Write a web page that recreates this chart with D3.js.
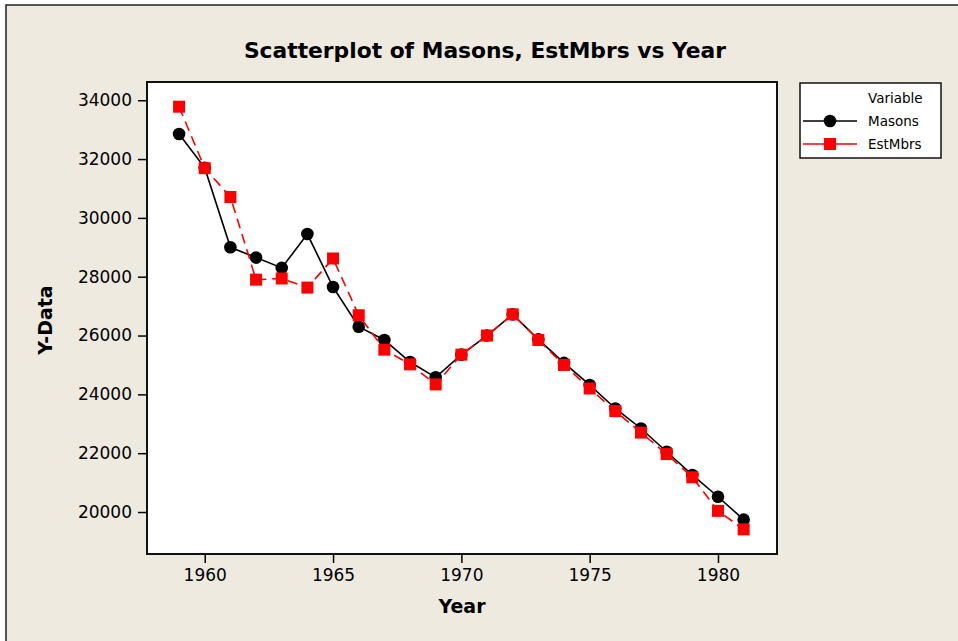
<!DOCTYPE html>
<html>
<head>
<meta charset="utf-8">
<script src="https://cdn.jsdelivr.net/npm/d3@7"></script>
<style>
  body { margin: 0; background: #fff; }
  svg { display: block; }
  .axis text { font-family: "DejaVu Sans", sans-serif; font-size: 17px; fill: #000; }
  .axis path, .axis line { stroke: #000; stroke-width: 1.5; }
</style>
</head>
<body>
<svg id="chart" width="958" height="641"></svg>
<script>
// data
var years = [1959, 1960, 1961, 1962, 1963, 1964, 1965, 1966, 1967, 1968, 1969, 1970,
             1971, 1972, 1973, 1974, 1975, 1976, 1977, 1978, 1979, 1980, 1981];
var masons = [32850, 31700, 29000, 28650, 28300, 29450, 27650, 26300, 25850, 25100, 24580, 25350,
              26000, 26720, 25870, 25070, 24320, 23520, 22840, 22050, 21260, 20520, 19740];
var estMbrs = [33780, 31690, 30710, 27900, 27940, 27630, 28620, 26690, 25520, 25020, 24340, 25350,
               26000, 26720, 25850, 25000, 24200, 23430, 22700, 21970, 21180, 20040, 19410];
var xTicks = [1960, 1965, 1970, 1975, 1980];
var yTicks = [20000, 22000, 24000, 26000, 28000, 30000, 32000, 34000];
var seriesNames = ["Masons", "EstMbrs"];

var svg = d3.select("#chart");

// beige panel with frame on left/top
svg.append("rect")
   .attr("x", 6).attr("y", 5).attr("width", 960).attr("height", 650)
   .attr("fill", "#eeeae0").attr("stroke", "#222").attr("stroke-width", 1.5);

var P = { left: 147, right: 777, top: 82, bottom: 554 };

var x = d3.scaleLinear().domain([1957.75, 1982.3]).range([P.left, P.right]);
var y = d3.scaleLinear().domain([18573, 34620]).range([P.bottom, P.top]);

// plot area
svg.append("rect")
   .attr("x", P.left).attr("y", P.top)
   .attr("width", P.right - P.left).attr("height", P.bottom - P.top)
   .attr("fill", "#fff").attr("stroke", "#111").attr("stroke-width", 2);

// axes
var xAxis = svg.append("g").attr("class", "axis")
   .attr("transform", "translate(0," + P.bottom + ")")
   .call(d3.axisBottom(x).tickValues(xTicks).tickFormat(d3.format("d")).tickSize(9).tickPadding(6));
xAxis.select(".domain").remove();

var yAxis = svg.append("g").attr("class", "axis")
   .attr("transform", "translate(" + P.left + ",0)")
   .call(d3.axisLeft(y).tickValues(yTicks).tickFormat(d3.format("d")).tickSize(9).tickPadding(6));
yAxis.select(".domain").remove();

// titles
svg.append("text")
   .attr("x", 485).attr("y", 58)
   .attr("text-anchor", "middle")
   .style("font-family", "DejaVu Sans, sans-serif").style("font-weight", "bold").style("font-size", "21.8px")
   .text("Scatterplot of Masons, EstMbrs vs Year");

svg.append("text")
   .attr("x", 462).attr("y", 613)
   .attr("text-anchor", "middle")
   .style("font-family", "DejaVu Sans, sans-serif").style("font-weight", "bold").style("font-size", "19px")
   .text("Year");

svg.append("text")
   .attr("transform", "translate(52,320) rotate(-90)")
   .attr("text-anchor", "middle")
   .style("font-family", "DejaVu Sans, sans-serif").style("font-weight", "bold").style("font-size", "19px")
   .text("Y-Data");

// lines + markers
var line = d3.line()
   .x(function(d) { return x(d[0]); })
   .y(function(d) { return y(d[1]); });

var masonPts = years.map(function(yr, i) { return [yr, masons[i]]; });
var estPts = years.map(function(yr, i) { return [yr, estMbrs[i]]; });

svg.append("path")
   .attr("d", line(masonPts))
   .attr("fill", "none").attr("stroke", "#000").attr("stroke-width", 1.6);

svg.selectAll("circle.mason").data(masonPts).enter().append("circle")
   .attr("class", "mason")
   .attr("cx", function(d) { return x(d[0]); })
   .attr("cy", function(d) { return y(d[1]); })
   .attr("r", 6.3).attr("fill", "#000");

svg.append("path")
   .attr("d", line(estPts))
   .attr("fill", "none").attr("stroke", "#ff0000").attr("stroke-width", 1.6)
   .attr("stroke-dasharray", "10,6");

var sq = 12;
svg.selectAll("rect.est").data(estPts).enter().append("rect")
   .attr("class", "est")
   .attr("x", function(d) { return x(d[0]) - sq / 2; })
   .attr("y", function(d) { return y(d[1]) - sq / 2; })
   .attr("width", sq).attr("height", sq).attr("fill", "#ff0000");

// legend
var lg = svg.append("g");
lg.append("rect")
   .attr("x", 800).attr("y", 83).attr("width", 141).attr("height", 75)
   .attr("fill", "#fff").attr("stroke", "#111").attr("stroke-width", 1.5);
lg.append("text")
   .attr("x", 868).attr("y", 103)
   .style("font-family", "DejaVu Sans, sans-serif").style("font-size", "13.5px")
   .text("Variable");

seriesNames.forEach(function(name, i) {
   var ly = 121 + i * 23;
   lg.append("line")
     .attr("x1", 803).attr("x2", 857).attr("y1", ly).attr("y2", ly)
     .attr("stroke", i == 0 ? "#000" : "#ff0000").attr("stroke-width", 1.6);
   if (i == 0) {
     lg.append("circle").attr("cx", 830).attr("cy", ly).attr("r", 6.3).attr("fill", "#000");
   } else {
     lg.append("rect").attr("x", 830 - sq / 2).attr("y", ly - sq / 2)
       .attr("width", sq).attr("height", sq).attr("fill", "#ff0000");
   }
   lg.append("text")
     .attr("x", 868).attr("y", ly + 5)
     .style("font-family", "DejaVu Sans, sans-serif").style("font-size", "13.5px")
     .text(name);
});
</script>
</body>
</html>
